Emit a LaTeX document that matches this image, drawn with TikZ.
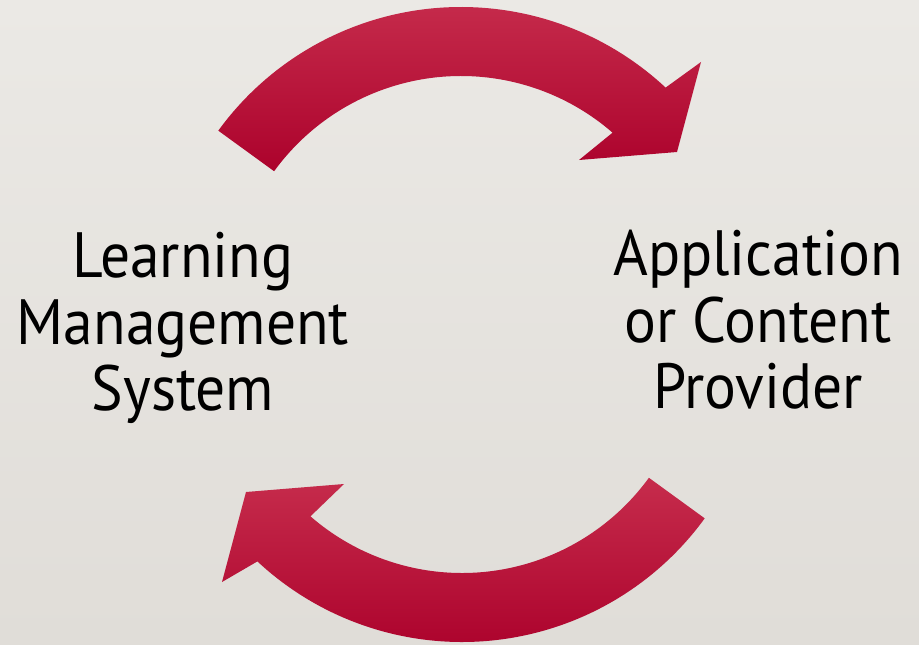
\documentclass[tikz,border=0pt]{standalone}
\usepackage{fontspec}
\setmainfont{PT Sans}[FakeStretch=0.93]
\usetikzlibrary{calc}

\definecolor{bgtop}{RGB}{235,233,229}
\definecolor{bgbot}{RGB}{224,221,216}
\definecolor{arrowtop}{RGB}{198,44,76}
\definecolor{arrowbot}{RGB}{172,2,44}

\begin{document}
\begin{tikzpicture}[
    x=0.5pt, y=0.5pt,
    bigarrow/.style={top color=arrowtop, bottom color=arrowbot, draw=none},
    sidelabel/.style={align=center, inner sep=0pt, font=\fontsize{32}{33.3}\selectfont}
]

% Background
\fill[top color=bgtop, bottom color=bgbot] (0,0) rectangle (919,644);
\useasboundingbox (0,0) rectangle (919,644);

% Arc centres
\coordinate (topc) at (461,337);
\coordinate (botc) at (462,302);

% Labels
\node[sidelabel] (lms) at (183,316) {Learning\\Management\\System};
\node[sidelabel] (provider) at (758,324) {Application\\or Content\\Provider};

% Upper arrow, LMS to provider
\path[bigarrow] ($(topc)+(144:300)$) arc[start angle=144, end angle=47, radius=300]
    -- (701,582) -- (677,492) -- (579,484)
    -- ($(topc)+(49:231)$) arc[start angle=49, end angle=144, radius=231] -- cycle;

% Lower arrow, provider to LMS
\path[bigarrow] ($(botc)+(324:300)$) arc[start angle=324, end angle=227, radius=300]
    -- (222,62) -- (246,152) -- (344,160)
    -- ($(botc)+(229:231)$) arc[start angle=229, end angle=324, radius=231] -- cycle;

\end{tikzpicture}
\end{document}
